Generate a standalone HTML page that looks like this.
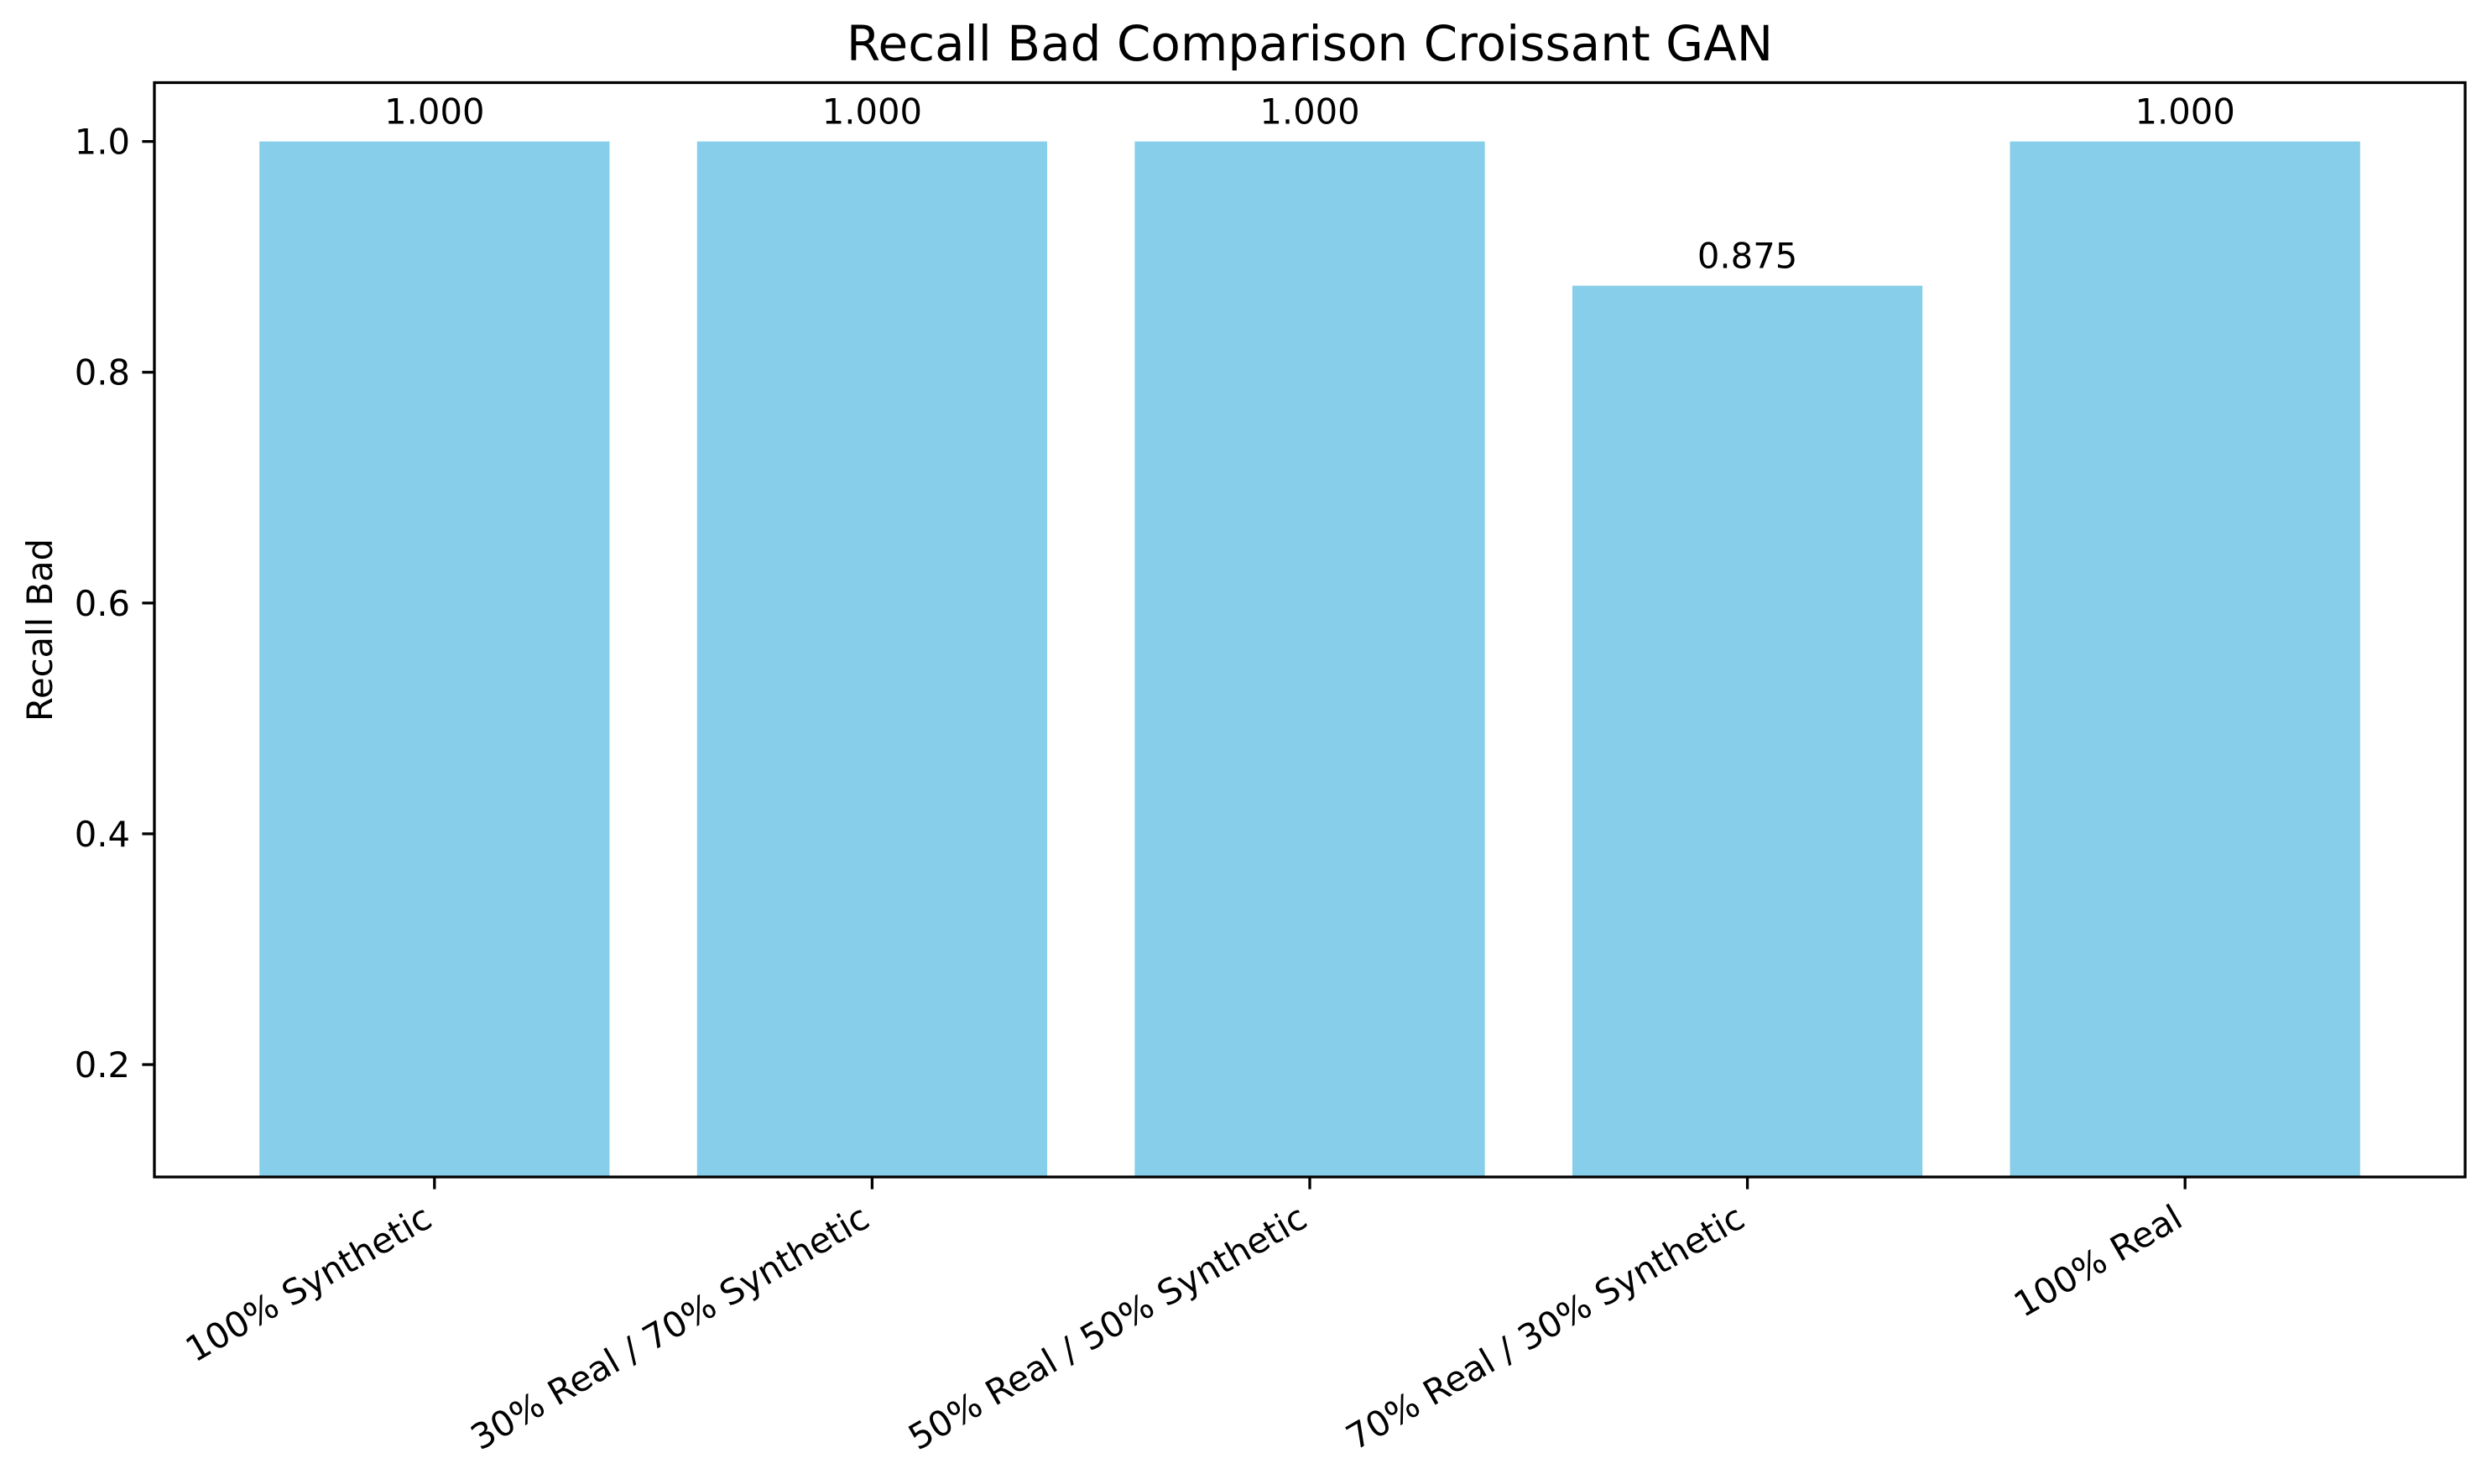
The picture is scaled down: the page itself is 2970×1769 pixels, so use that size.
<!DOCTYPE html>
<html><head><meta charset="utf-8"><style>body{margin:0;background:#fff}svg{display:block}</style></head>
<body>
<svg id="chart" width="2970" height="1769" xmlns="http://www.w3.org/2000/svg" font-family="DejaVu Sans, Liberation Sans, sans-serif">
<rect width="2970" height="1769" fill="#fff"/>
<text x="1561" y="72" font-size="58" text-anchor="middle">Recall Bad Comparison Croissant GAN</text>
<text transform="translate(62,751) rotate(-90)" font-size="41.7" text-anchor="middle">Recall Bad</text>
<g id="marks"></g>
<rect x="184" y="98.5" width="2754" height="1304.5" fill="none" stroke="#000" stroke-width="3.3"/>
</svg>
<script>
const categories = ["100% Synthetic", "30% Real / 70% Synthetic", "50% Real / 50% Synthetic", "70% Real / 30% Synthetic", "100% Real"];
const values = [1.0, 1.0, 1.0, 0.875, 1.0];
const yTicks = [0.2, 0.4, 0.6, 0.8, 1.0];
const L=184,R=2938,T=98.5,B=1403, xmin=-0.64,xmax=4.64,ymin=0.1026,ymax=1.051;
const xs=v=>L+(v-xmin)/(xmax-xmin)*(R-L);
const ys=v=>B-(v-ymin)/(ymax-ymin)*(B-T);
const g=document.getElementById('marks');
const NS='http://www.w3.org/2000/svg';
function mk(t,a){const e=document.createElementNS(NS,t);for(const k in a)e.setAttribute(k,a[k]);g.appendChild(e);return e;}
const bw=(xs(0.8)-xs(0));
values.forEach((v,i)=>{
  const r=mk('rect',{x:xs(i)-bw/2,y:ys(v),width:bw,height:B-ys(v),fill:'#87ceeb'});
  
  
  const t=mk('text',{x:xs(i),y:ys(v)-21,'font-size':'41.7','text-anchor':'middle'});
  t.textContent=v.toFixed(3);
  
  
  const tk=mk('line',{x1:xs(i),x2:xs(i),y1:B,y2:B+14.6,stroke:'#000','stroke-width':3.3});
  
  
  const lb=mk('text',{transform:`translate(${xs(i)-16},${B+30}) rotate(-30)`,'font-size':'41.7','text-anchor':'end','dominant-baseline':'hanging'});
  lb.textContent=categories[i];
  
  
});
yTicks.forEach(v=>{
  const tk=mk('line',{x1:L-14.6,x2:L,y1:ys(v),y2:ys(v),stroke:'#000','stroke-width':3.3});
  
  
  const lb=mk('text',{x:L-29,y:ys(v)+15,'font-size':'41.7','text-anchor':'end'});
  lb.textContent=v.toFixed(1);
  
  
});
</script>
</body></html>
